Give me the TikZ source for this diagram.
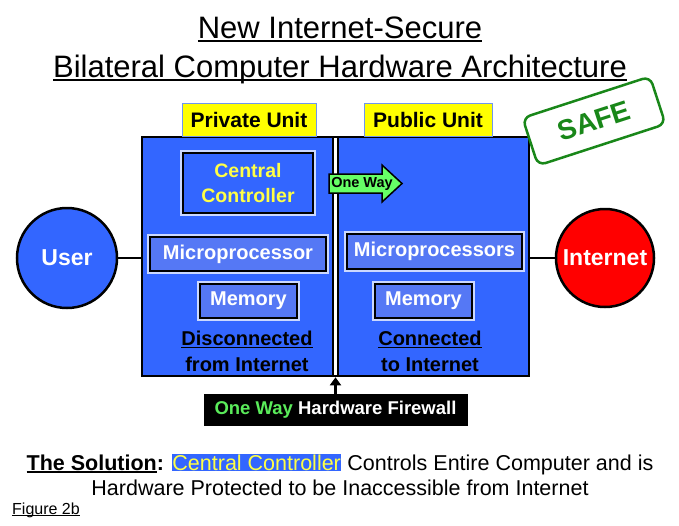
\documentclass[tikz,border=0pt]{standalone}
\usepackage{fontspec}
\setmainfont{Liberation Sans}
\usetikzlibrary{arrows.meta}
\definecolor{mblue}{RGB}{51,102,255}
\definecolor{lblue}{RGB}{85,120,245}
\definecolor{ybox}{RGB}{255,255,0}
\definecolor{yborder}{RGB}{110,150,240}
\definecolor{ytext}{RGB}{255,255,70}
\definecolor{ogreen}{RGB}{102,255,102}
\definecolor{fwgreen}{RGB}{90,235,90}
\definecolor{sgreen}{RGB}{25,135,25}
\definecolor{ired}{RGB}{255,0,0}
\newcommand\myul[3]{\setbox0\hbox{#3}\rlap{\rule[-#1]{\wd0}{#2}}\box0}
\newcommand\fsz[2]{\fontsize{#1}{#2}\selectfont}
\begin{document}
\begin{tikzpicture}[x=1pt,y=-1pt,
  labelbox/.style={draw=yborder, line width=1pt, fill=ybox, inner sep=0pt, minimum height=33pt, font=\bfseries\fsz{21}{25}},
  glowbox/.style={draw=black, line width=2pt, inner sep=0pt, preaction={draw=white, line width=6pt, opacity=0.75}},
  conn/.style={draw=black, line width=2.5pt},
  bigcircle/.style={circle, draw=black, line width=2.5pt, inner sep=0pt, text=white, font=\bfseries\fsz{23}{27}}
]
\useasboundingbox (0,0) rectangle (679,525);
% title
\node[anchor=base, inner sep=0pt, font=\fsz{31}{37}] (t1) at (340,38) {\myul{4pt}{2pt}{New Internet-Secure}};
\node[anchor=base, inner sep=0pt, font=\fsz{31}{37}] (t2) at (340,77) {\myul{4pt}{2pt}{Bilateral Computer Hardware Architecture}};
% main box
\node[draw=black, line width=2.6pt, fill=mblue, minimum width=387pt, minimum height=239pt, inner sep=0pt] (box) at (335.5,256.5) {};
\node[draw=black, line width=2.3pt, fill=white, minimum width=4.5pt, minimum height=239pt, inner sep=0pt] (div) at (335.5,256.5) {};
% unit labels
\node[labelbox, minimum width=134pt] (privlbl) at (249,119.5) {Private Unit};
\node[labelbox, minimum width=128pt] (publbl) at (428,119.5) {Public Unit};
% central controller
\node[glowbox, fill=mblue, minimum width=130pt, minimum height=60pt, text=ytext, align=center, font=\bfseries\fsz{19.5}{25}] (cc) at (248,183) {Central\\Controller};
% one way arrow
\draw[line width=1.5pt, fill=ogreen, line join=miter] (329,174) -- (382,174) -- (382,165) -- (402,183.5) -- (382,202) -- (382,193) -- (329,193) -- cycle;
\node[inner sep=0pt, font=\bfseries\fsz{14.5}{17}] (ow) at (362,184) {One Way};
% microprocessors
\node[glowbox, fill=lblue, minimum width=176pt, minimum height=34pt, text=white, font=\bfseries\fsz{20}{24}] (mpl) at (238,254) {Microprocessor};
\node[glowbox, fill=lblue, minimum width=175pt, minimum height=35pt, text=white, font=\bfseries\fsz{20}{24}] (mpr) at (434.5,251.5) {Microprocessors};
% memory
\node[glowbox, fill=lblue, minimum width=97pt, minimum height=34pt, text=white, font=\bfseries\fsz{20}{24}] (meml) at (248.5,301) {Memory};
\node[glowbox, fill=lblue, minimum width=97pt, minimum height=34pt, text=white, font=\bfseries\fsz{20}{24}] (memr) at (423.5,301) {Memory};
% captions
\node[align=center, inner sep=0pt, font=\bfseries\fsz{20}{26}] (disc) at (247,351) {\myul{3pt}{1.5pt}{Disconnected}\\from Internet};
\node[align=center, inner sep=0pt, font=\bfseries\fsz{20}{26}] (conn) at (430,351) {\myul{3pt}{1.5pt}{Connected}\\to Internet};
% user and internet
\node[bigcircle, fill=mblue, minimum size=100pt] (user) at (67,258) {User};
\node[bigcircle, fill=ired, minimum size=98pt] (inet) at (605,258) {Internet};
\draw[conn] (user.east) -- (user.east -| box.west);
\draw[conn] (inet.west) -- (inet.west -| box.east);
% firewall
\node[fill=black, minimum width=264pt, minimum height=32pt, inner sep=0pt, text=white, font=\bfseries\fsz{18.5}{22}] (fw) at (335.5,410) {\textcolor{fwgreen}{One Way} Hardware Firewall};
\draw[line width=2.5pt, -{Triangle[length=8pt,width=11pt]}] (fw.north) -- (box.south);
% SAFE stamp
\node[draw=sgreen, line width=2.5pt, rounded corners=8pt, fill=white, rotate=18, minimum width=134pt, minimum height=50pt, text=sgreen, font=\bfseries\fsz{28}{32}] (safe) at (594,121) {SAFE};
% bottom text
\node[anchor=base, inner sep=0pt, font=\fsz{21.5}{26}] (sol1) at (340,470) {\textbf{\myul{2.5pt}{1.4pt}{The Solution}:} {\fboxsep=0.5pt\colorbox{mblue}{\textcolor{ytext}{Central Controller}}} Controls Entire Computer and is};
\node[anchor=base, inner sep=0pt, font=\fsz{21.5}{26}] (sol2) at (340,495) {Hardware Protected to be Inaccessible from Internet};
\node[anchor=base west, inner sep=0pt, font=\fsz{16}{19}] (fig) at (12,514) {\myul{2pt}{1pt}{Figure 2b}};
\end{tikzpicture}
\end{document}
